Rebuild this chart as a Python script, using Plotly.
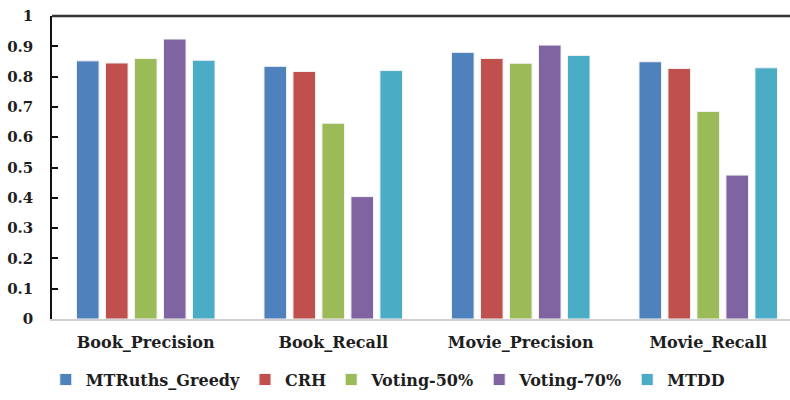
import plotly.graph_objects as go

categories = ["Book_Precision", "Book_Recall", "Movie_Precision", "Movie_Recall"]

mtruths_greedy = [0.852, 0.834, 0.880, 0.849]
crh = [0.845, 0.817, 0.860, 0.827]
voting_50 = [0.860, 0.646, 0.844, 0.685]
voting_70 = [0.924, 0.404, 0.904, 0.475]
mtdd = [0.854, 0.820, 0.870, 0.829]

series_names = ["MTRuths_Greedy", "CRH", "Voting-50%", "Voting-70%", "MTDD"]
series_values = [mtruths_greedy, crh, voting_50, voting_70, mtdd]
colors = ["#4F81BD", "#C0504D", "#9BBB59", "#8064A2", "#4BACC6"]

font_family = "DejaVu Serif"
text_color = "#1E1E1E"

fig = go.Figure()
for name, vals, col in zip(series_names, series_values, colors):
    fig.add_trace(go.Bar(
        x=categories, y=vals, name=name,
        marker=dict(color=col, line=dict(color="#F4F4F4", width=1)),
    ))

fig.update_layout(
    width=790, height=400,
    margin=dict(l=52, r=0, t=16, b=81),
    paper_bgcolor="white", plot_bgcolor="white",
    barmode="group", bargap=0.227, bargroupgap=0.22,
    font=dict(family=font_family, color=text_color),
    legend=dict(
        orientation="h", x=0.455, xanchor="center", y=-0.2, yanchor="middle",
        font=dict(family=font_family, size=16, color=text_color, weight="bold"),
        itemwidth=30, tracegroupgap=0,
    ),
)

fig.update_xaxes(
    range=[-0.5, 3.436],
    showline=True, linecolor="#D0D0D0", linewidth=1.5,
    ticks="", showgrid=False, zeroline=False,
    tickfont=dict(family=font_family, size=16, color=text_color, weight="bold"),
    ticklabelstandoff=8,
)

fig.update_yaxes(
    range=[0, 1], dtick=0.1, tick0=0,
    showline=True, linecolor="#111111", linewidth=1.5,
    ticks="inside", ticklen=6, tickwidth=1.5, tickcolor="#111111",
    showgrid=False, zeroline=False,
    tickfont=dict(family=font_family, size=15, color=text_color, weight="bold"),
    ticklabelstandoff=14,
)

# Dark border along the top of the plotting area
fig.add_shape(type="line", xref="paper", yref="paper",
              x0=0, x1=1, y0=1, y1=1,
              line=dict(color="#333333", width=2.5))

fig.write_html("out.html")
